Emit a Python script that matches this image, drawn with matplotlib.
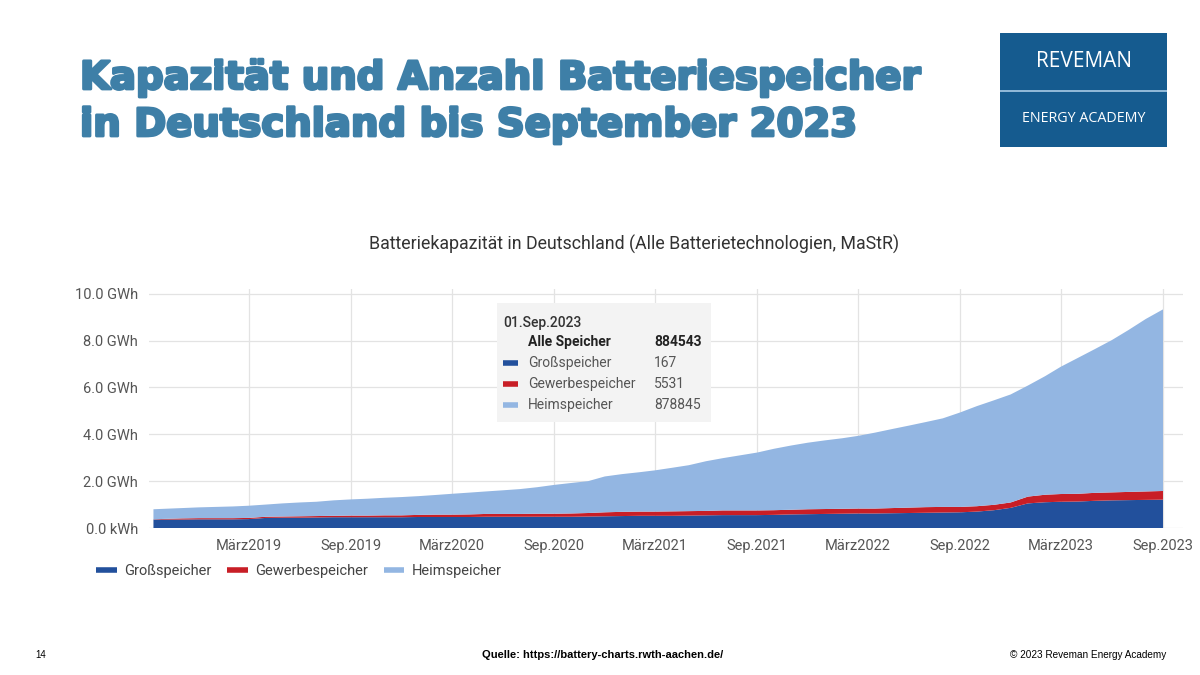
import matplotlib
matplotlib.use("Agg")
import matplotlib.pyplot as plt
import matplotlib.patheffects as pe
from matplotlib.patches import Rectangle
from matplotlib.lines import Line2D
import pandas as pd

# ---------------- data (GWh) ----------------
dates = ["2018-09-11"] + [d.strftime("%Y-%m-%d") for d in pd.date_range("2018-10-01", "2023-09-01", freq="MS")]

grossspeicher = [
    0.36, 0.36, 0.36, 0.37, 0.37, 0.37, 0.38, 0.43, 0.44, 0.44, 0.45, 0.46,
    0.46, 0.46, 0.46, 0.46, 0.47, 0.47, 0.47, 0.47, 0.48, 0.48, 0.48, 0.48,
    0.48, 0.48, 0.49, 0.50, 0.51, 0.52, 0.52, 0.52, 0.53, 0.54, 0.55, 0.55,
    0.55, 0.56, 0.58, 0.59, 0.60, 0.61, 0.62, 0.62, 0.63, 0.64, 0.65, 0.66,
    0.67, 0.70, 0.76, 0.86, 1.05, 1.10, 1.12, 1.13, 1.16, 1.18, 1.19, 1.20,
    1.21,
]
gewerbespeicher = [
    0.01, 0.03, 0.05, 0.05, 0.05, 0.05, 0.05, 0.05, 0.05, 0.06, 0.06, 0.06,
    0.07, 0.07, 0.08, 0.08, 0.09, 0.10, 0.10, 0.11, 0.12, 0.12, 0.12, 0.13,
    0.13, 0.14, 0.15, 0.17, 0.18, 0.18, 0.18, 0.19, 0.19, 0.19, 0.20, 0.20,
    0.20, 0.20, 0.20, 0.21, 0.21, 0.21, 0.21, 0.21, 0.22, 0.23, 0.24, 0.24,
    0.23, 0.23, 0.23, 0.23, 0.29, 0.32, 0.33, 0.33, 0.34, 0.34, 0.35, 0.36,
    0.37,
]
heimspeicher = [
    0.43, 0.43, 0.44, 0.46, 0.48, 0.50, 0.52, 0.52, 0.56, 0.59, 0.61, 0.66,
    0.69, 0.72, 0.75, 0.78, 0.80, 0.84, 0.89, 0.93, 0.96, 1.01, 1.06, 1.13,
    1.23, 1.30, 1.36, 1.53, 1.61, 1.68, 1.76, 1.86, 1.96, 2.12, 2.23, 2.35,
    2.47, 2.62, 2.74, 2.84, 2.93, 3.01, 3.10, 3.24, 3.37, 3.50, 3.63, 3.78,
    4.03, 4.27, 4.46, 4.61, 4.74, 5.06, 5.43, 5.80, 6.13, 6.50, 6.91, 7.36,
    7.75,
]
series_names = ["Großspeicher", "Gewerbespeicher", "Heimspeicher"]
series_colors = ["#22509c", "#c81e26", "#93b6e2"]

y_ticks = [0, 2, 4, 6, 8, 10]
y_tick_labels = ["0.0 kWh", "2.0 GWh", "4.0 GWh", "6.0 GWh", "8.0 GWh", "10.0 GWh"]
x_tick_dates = ["2019-03-01", "2019-09-01", "2020-03-01", "2020-09-01", "2021-03-01",
                "2021-09-01", "2022-03-01", "2022-09-01", "2023-03-01", "2023-09-01"]
x_tick_labels = ["März2019", "Sep.2019", "März2020", "Sep.2020", "März2021",
                 "Sep.2021", "März2022", "Sep.2022", "März2023", "Sep.2023"]

tooltip_date = "01.Sep.2023"
tooltip_total = ("Alle Speicher", "884543")
tooltip_counts = ["167", "5531", "878845"]

title_lines = ["Kapazität und Anzahl Batteriespeicher", "in Deutschland bis September 2023"]

# ---------------- figure ----------------
plt.rcParams["font.family"] = ["Roboto", "DejaVu Sans"]
fig = plt.figure(figsize=(12, 6.75), dpi=100)
fig.patch.set_facecolor("white")

# slide title
title_color = "#3e7fa7"
for line, base_y in zip(title_lines, [89, 136]):
    fig.text(80 / 1200, 1 - base_y / 675, line, ha="left", va="baseline",
             fontsize=27.8, fontweight="bold", color=title_color,
             family=["DejaVu Sans"],
             path_effects=[pe.withStroke(linewidth=2.0, foreground=title_color)])

# logo
logo_ax = fig.add_axes([1000 / 1200, 1 - 147 / 675, 167 / 1200, 114 / 675])
logo_ax.set_xlim(0, 1)
logo_ax.set_ylim(0, 1)
logo_ax.axis("off")
logo_ax.add_patch(Rectangle((0, 0), 1, 1, color="#155b8f", transform=logo_ax.transAxes))
logo_ax.plot([0, 1], [0.49, 0.49], color="#a9cbe6", lw=1.2)
logo_ax.text(0.5, 0.75, "REVEMAN", ha="center", va="center", color="white", fontsize=15,
             family=["Open Sans", "DejaVu Sans"])
logo_ax.text(0.5, 0.25, "ENERGY ACADEMY", ha="center", va="center", color="white", fontsize=10.3,
             family=["Open Sans", "DejaVu Sans"])

# chart
ax = fig.add_axes([149 / 1200, 1 - 528 / 675, (1183 - 149) / 1200, (528 - 289) / 675])
x = pd.to_datetime(dates)
ax.stackplot(x, grossspeicher, gewerbespeicher, heimspeicher,
             colors=series_colors, linewidth=0)

ax.set_xlim(pd.Timestamp("2018-09-03"), pd.Timestamp("2023-10-07"))
ax.set_ylim(0, 10.2)
ax.set_yticks(y_ticks)
ax.set_yticklabels(y_tick_labels)
ax.set_xticks(pd.to_datetime(x_tick_dates))
ax.set_xticklabels(x_tick_labels)
ax.tick_params(axis="both", length=0, labelsize=10.5, colors="#555555")
ax.tick_params(axis="y", pad=8)
ax.tick_params(axis="x", pad=8)
for s in ax.spines.values():
    s.set_visible(False)
ax.grid(True, color="#e3e3e3", lw=0.9)
ax.set_axisbelow(True)

fig.text(634 / 1200, 1 - 244 / 675,
         "Batteriekapazität in Deutschland (Alle Batterietechnologien, MaStR)",
         ha="center", va="center", fontsize=12.8, color="#333333")

# legend
handles = [Line2D([0], [0], color=c, lw=4, solid_capstyle="butt") for c in series_colors]
fig.legend(handles, series_names, loc="center left", bbox_to_anchor=(83 / 1200, 1 - 571 / 675),
           ncol=3, frameon=False, fontsize=10.5, handlelength=1.4, handletextpad=0.5,
           columnspacing=1.1, labelcolor="#444444")

# tooltip box
fig.patches.append(Rectangle((497 / 1200, 1 - 422 / 675), (711 - 497) / 1200, (422 - 303) / 675,
                             transform=fig.transFigure, facecolor="#f3f3f3", edgecolor="none",
                             zorder=5))
fig.text(503 / 1200, 1 - 323 / 675, tooltip_date, ha="left", va="center", fontsize=10,
         color="#333333", fontweight="medium", zorder=6)
fig.text(528 / 1200, 1 - 342 / 675, tooltip_total[0], ha="left", va="center", fontsize=10,
         color="#222222", fontweight="bold", zorder=6)
fig.text(654 / 1200, 1 - 342 / 675, tooltip_total[1], ha="left", va="center", fontsize=10,
         color="#222222", fontweight="bold", zorder=6)
row_y = [363, 384, 405]
for name, cnt, col, yy in zip(series_names, tooltip_counts, series_colors, row_y):
    fig.add_artist(Line2D([503 / 1200, 518 / 1200], [1 - yy / 675, 1 - yy / 675],
                          color=col, lw=4, solid_capstyle="butt", zorder=6))
    fig.text(528 / 1200, 1 - yy / 675, name, ha="left", va="center", fontsize=10,
             color="#555555", zorder=6)
    fig.text(654 / 1200, 1 - yy / 675, cnt, ha="left", va="center", fontsize=10,
             color="#555555", zorder=6)

# footer
foot_fam = ["Liberation Sans", "DejaVu Sans"]
fig.text(35 / 1200, 1 - 655 / 675, "14", ha="left", va="center", fontsize=7, family=foot_fam)
fig.text(603 / 1200, 1 - 655 / 675, "Quelle: https://battery-charts.rwth-aachen.de/",
         ha="center", va="center", fontsize=8, fontweight="bold", family=foot_fam)
fig.text(1166 / 1200, 1 - 655 / 675, "© 2023 Reveman Energy Academy", ha="right",
         va="center", fontsize=7.2, family=foot_fam)

fig.savefig("out.png", dpi=100)
